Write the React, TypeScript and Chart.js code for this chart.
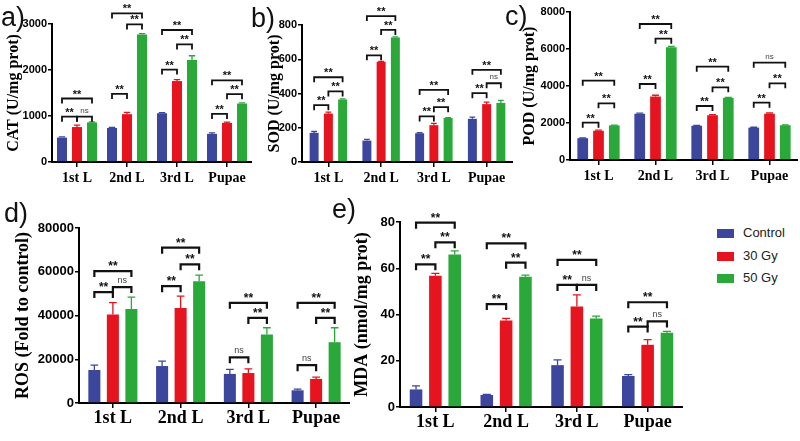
import React, { useEffect, useRef } from 'react';
import { Chart, registerables } from 'chart.js';

Chart.register(...registerables);

// ---------- data ----------
const categories = ['1st L', '2nd L', '3rd L', 'Pupae'];
const seriesNames = ['Control', '30 Gy', '50 Gy'];
const seriesColors = ['#3b469c', '#e5141e', '#2ba83a'];

// a) CAT
const catControl = [530, 740, 1060, 610];
const cat30 = [760, 1040, 1760, 850];
const cat50 = [860, 2770, 2220, 1270];
const catControlErr = [15, 10, 15, 25];
const cat30Err = [40, 40, 30, 15];
const cat50Err = [10, 20, 90, 15];
const catTicks = { max: 3000, step: 1000 };
// [category, fromSeries, toSeries, level, label]
const catSig = [
  [0, 0, 1, 985, '**'], [0, 1, 2, 985, 'ns'], [0, 0, 2, 1380, '**'],
  [1, 0, 1, 1480, '**'], [1, 1, 2, 2990, '**'], [1, 0, 2, 3230, '**'],
  [2, 0, 1, 2010, '**'], [2, 1, 2, 2555, '**'], [2, 0, 2, 2870, '**'],
  [3, 0, 1, 1045, '**'], [3, 1, 2, 1475, '**'], [3, 0, 2, 1775, '**'],
];

// b) SOD
const sodControl = [170, 125, 168, 252];
const sod30 = [283, 585, 215, 338];
const sod50 = [365, 727, 257, 345];
const sodControlErr = [8, 7, 4, 10];
const sod30Err = [8, 3, 10, 12];
const sod50Err = [4, 4, 2, 15];
const sodTicks = { max: 800, step: 200 };
const sodSig = [
  [0, 0, 1, 332, '**'], [0, 1, 2, 412, '**'], [0, 0, 2, 495, '**'],
  [1, 0, 1, 623, '**'], [1, 1, 2, 771, '**'], [1, 0, 2, 852, '**'],
  [2, 0, 1, 266, '**'], [2, 1, 2, 320, '**'], [2, 0, 2, 421, '**'],
  [3, 0, 1, 402, '**'], [3, 1, 2, 460, 'ns'], [3, 0, 2, 538, '**'],
];

// c) POD
const podControl = [1180, 2500, 1850, 1750];
const pod30 = [1580, 3430, 2420, 2500];
const pod50 = [1870, 6100, 3360, 1880];
const podControlErr = [20, 30, 20, 20];
const pod30Err = [40, 70, 30, 40];
const pod50Err = [20, 40, 30, 20];
const podTicks = { max: 8000, step: 2000 };
const podSig = [
  [0, 0, 1, 2018, '**'], [0, 1, 2, 3063, '**'], [0, 0, 2, 4288, '**'],
  [1, 0, 1, 4108, '**'], [1, 1, 2, 6558, '**'], [1, 0, 2, 7351, '**'],
  [2, 0, 1, 2919, '**'], [2, 1, 2, 3928, '**'], [2, 0, 2, 5045, '**'],
  [3, 0, 1, 3099, '**'], [3, 1, 2, 4144, '**'], [3, 0, 2, 5261, 'ns'],
];

// d) ROS
const rosControl = [15100, 16900, 13300, 5800];
const ros30 = [40500, 43400, 13700, 11000];
const ros50 = [43000, 55700, 31300, 27800];
const rosControlErr = [2200, 2200, 2100, 500];
const ros30Err = [5400, 5500, 1900, 800];
const ros50Err = [5400, 2800, 3100, 6600];
const rosTicks = { max: 80000, step: 20000 };
const rosSig = [
  [0, 0, 1, 50700, '**'], [0, 1, 2, 53000, 'ns'], [0, 0, 2, 60300, '**'],
  [1, 0, 1, 53400, '**'], [1, 1, 2, 63400, '**'], [1, 0, 2, 71000, '**'],
  [2, 0, 1, 20900, 'ns'], [2, 1, 2, 38900, '**'], [2, 0, 2, 45800, '**'],
  [3, 0, 1, 17300, 'ns'], [3, 1, 2, 38900, '**'], [3, 0, 2, 45800, '**'],
];

// e) MDA
const mdaControl = [7.6, 5.2, 18.1, 13.4];
const mda30 = [56.8, 37.4, 43.5, 26.9];
const mda50 = [65.9, 56.3, 38.3, 32.1];
const mdaControlErr = [1.5, 0.3, 2.3, 0.6];
const mda30Err = [1.0, 0.9, 5.0, 2.2];
const mda50Err = [1.6, 0.7, 1.0, 0.6];
const mdaTicks = { max: 80, step: 20 };
const mdaSig = [
  [0, 0, 1, 61.7, '**'], [0, 1, 2, 71.2, '**'], [0, 0, 2, 79.7, '**'],
  [1, 0, 1, 44.5, '**'], [1, 1, 2, 62.4, '**'], [1, 0, 2, 70.8, '**'],
  [2, 0, 1, 52.8, '**'], [2, 1, 2, 52.8, 'ns'], [2, 0, 2, 63.6, '**'],
  [3, 0, 1, 34.8, '**'], [3, 1, 2, 37.0, 'ns'], [3, 0, 2, 45.3, '**'],
];

// ---------- layout / style ----------
const SERIF = "'Liberation Serif', 'Times New Roman', serif";
const SANS = "'Liberation Sans', Arial, sans-serif";

type Spec = {
  letter: string; title: string;
  values: number[][]; errors: number[][]; sig: any[]; ticks: { max: number; step: number };
  left: number; top: number; width: number; height: number;
  padTop: number; yW: number; xH: number;
  titleSize: number; tickSize: number; catSize: number; catPad: number;
  catPct: number; barPct: number; lw: number; leg: number; starSize: number; nsSize: number;
};

const topRow = { titleSize: 16, tickSize: 11, catSize: 14, catPad: 3, lw: 1.8, leg: 5, starSize: 11, nsSize: 8 };
const bottomRow = { titleSize: 18, tickSize: 13, catSize: 18, catPad: 0, lw: 2.2, leg: 6, starSize: 12, nsSize: 9 };

const panels: Spec[] = [
  { letter: 'a)', title: 'CAT (U/mg prot)', values: [catControl, cat30, cat50], errors: [catControlErr, cat30Err, cat50Err], sig: catSig, ticks: catTicks,
    left: 0, top: 0, width: 252, height: 192, padTop: 24, yW: 52, xH: 30, catPct: 0.9, barPct: 0.67, ...topRow },
  { letter: 'b)', title: 'SOD (U/mg prot)', values: [sodControl, sod30, sod50], errors: [sodControlErr, sod30Err, sod50Err], sig: sodSig, ticks: sodTicks,
    left: 261, top: 0, width: 252, height: 192, padTop: 25, yW: 41, xH: 30, catPct: 0.81, barPct: 0.63, ...topRow },
  { letter: 'c)', title: 'POD (U/mg prot)', values: [podControl, pod30, pod50], errors: [podControlErr, pod30Err, pod50Err], sig: podSig, ticks: podTicks,
    left: 516, top: 0, width: 282, height: 190, padTop: 12, yW: 54, xH: 30, catPct: 0.83, barPct: 0.68, ...topRow },
  { letter: 'd)', title: 'ROS (Fold to control)', values: [rosControl, ros30, ros50], errors: [rosControlErr, ros30Err, ros50Err], sig: rosSig, ticks: rosTicks,
    left: 9, top: 205, width: 341, height: 234, padTop: 23, yW: 70, xH: 36, catPct: 0.82, barPct: 0.65, ...bottomRow },
  { letter: 'e)', title: 'MDA (nmol/mg prot)', values: [mdaControl, mda30, mda50], errors: [mdaControlErr, mda30Err, mda50Err], sig: mdaSig, ticks: mdaTicks,
    left: 348, top: 200, width: 335, height: 241, padTop: 22, yW: 52, xH: 34, catPct: 0.82, barPct: 0.65, ...bottomRow },
];

const letterPos: Record<string, { left: number; top: number }> = {
  'a)': { left: 1, top: 4 },
  'b)': { left: 251, top: 5 },
  'c)': { left: 505, top: 3 },
  'd)': { left: 4, top: 200 },
  'e)': { left: 332, top: 196 },
};

function makeSigPlugin(spec: Spec) {
  return {
    id: 'sig-' + spec.letter,
    afterDatasetsDraw(chart: any) {
      const ctx = chart.ctx;
      const ys = chart.scales.y;
      ctx.save();
      // error bars (upper only)
      chart.data.datasets.forEach((ds: any, i: number) => {
        const meta = chart.getDatasetMeta(i);
        meta.data.forEach((el: any, j: number) => {
          const top = ys.getPixelForValue(ds.data[j] + ds.errors[j]);
          const cap = el.width * 0.32;
          ctx.strokeStyle = ds.backgroundColor;
          ctx.lineWidth = 1.3;
          ctx.beginPath();
          ctx.moveTo(el.x, el.y);
          ctx.lineTo(el.x, top);
          ctx.moveTo(el.x - cap, top);
          ctx.lineTo(el.x + cap, top);
          ctx.stroke();
        });
      });
      // significance brackets
      spec.sig.forEach(([c, a, b, level, label]: any) => {
        const xa = chart.getDatasetMeta(a).data[c].x;
        const xb = chart.getDatasetMeta(b).data[c].x;
        const y = ys.getPixelForValue(level);
        ctx.strokeStyle = '#111';
        ctx.lineWidth = spec.lw;
        ctx.lineJoin = 'miter';
        ctx.beginPath();
        ctx.moveTo(xa, y + spec.leg);
        ctx.lineTo(xa, y);
        ctx.lineTo(xb, y);
        ctx.lineTo(xb, y + spec.leg);
        ctx.stroke();
        ctx.textAlign = 'center';
        ctx.textBaseline = 'alphabetic';
        if (label === 'ns') {
          ctx.fillStyle = '#444';
          ctx.font = `${spec.nsSize}px ${SANS}`;
          ctx.fillText('ns', (xa + xb) / 2, y - 4);
        } else {
          ctx.fillStyle = '#111';
          ctx.font = `bold ${spec.starSize}px ${SANS}`;
          ctx.fillText(label, (xa + xb) / 2, y - 1);
        }
      });
      ctx.restore();
    },
  };
}

function Panel({ spec }: { spec: Spec }) {
  const ref = useRef<HTMLCanvasElement | null>(null);
  useEffect(() => {
    const chart = new Chart(ref.current as HTMLCanvasElement, {
      type: 'bar',
      data: {
        labels: categories,
        datasets: seriesNames.map((name, i) => ({
          label: name,
          data: spec.values[i],
          errors: spec.errors[i],
          backgroundColor: seriesColors[i],
          borderWidth: 0,
          categoryPercentage: spec.catPct,
          barPercentage: spec.barPct,
        })) as any,
      },
      options: {
        responsive: false,
        maintainAspectRatio: false,
        animation: false,
        layout: { padding: { top: spec.padTop, left: 0, right: 0, bottom: 0 } },
        plugins: { legend: { display: false }, tooltip: { enabled: false } },
        scales: {
          x: {
            grid: { offset: false, drawOnChartArea: false, drawTicks: true, tickLength: 5, color: '#000', lineWidth: 1.5 },
            border: { display: true, color: '#000', width: 2 },
            ticks: { color: '#000', autoSkip: false, maxRotation: 0, padding: spec.catPad, font: { family: SERIF, size: spec.catSize, weight: 'bold' } },
            afterFit: (s: any) => { s.height = spec.xH; },
          },
          y: {
            min: 0,
            max: spec.ticks.max,
            grid: { drawOnChartArea: false, drawTicks: true, tickLength: 4, color: '#000', lineWidth: 1.5 },
            border: { display: true, color: '#000', width: 2 },
            ticks: {
              stepSize: spec.ticks.step, color: '#000', padding: 1,
              font: { family: SANS, size: spec.tickSize, weight: 'bold' },
              callback: (v: any) => String(v),
            },
            title: { display: true, text: spec.title, color: '#000', padding: { top: 4, bottom: 0 }, font: { family: SERIF, size: spec.titleSize, weight: 'bold' } },
            afterFit: (s: any) => { s.width = spec.yW; },
          },
        },
      } as any,
      plugins: [makeSigPlugin(spec)],
    });
    return () => chart.destroy();
  }, [spec]);
  return (
    <canvas
      ref={ref}
      width={spec.width}
      height={spec.height}
      style={{ position: 'absolute', left: spec.left, top: spec.top, width: spec.width, height: spec.height }}
    />
  );
}

const legendPos = { left: 717, rows: [225, 248, 270] };

export default function App() {
  return (
    <div style={{ position: 'absolute', left: 0, top: 0, width: 800, height: 441, background: '#fff', overflow: 'hidden' }}>
      {panels.map((p) => (
        <Panel key={p.letter} spec={p} />
      ))}
      {panels.map((p) => (
        <div
          key={'l' + p.letter}
          style={{ position: 'absolute', left: letterPos[p.letter].left, top: letterPos[p.letter].top, fontFamily: SANS, fontSize: 27, lineHeight: '27px', color: '#111' }}
        >
          {p.letter}
        </div>
      ))}
      {seriesNames.map((name, i) => (
        <div key={name} style={{ position: 'absolute', left: legendPos.left, top: legendPos.rows[i], height: 16, display: 'flex', alignItems: 'center' }}>
          <div style={{ width: 17, height: 9, background: seriesColors[i] }} />
          <span style={{ marginLeft: 9, fontFamily: SANS, fontSize: 13, color: '#222', lineHeight: '16px' }}>{name}</span>
        </div>
      ))}
    </div>
  );
}
